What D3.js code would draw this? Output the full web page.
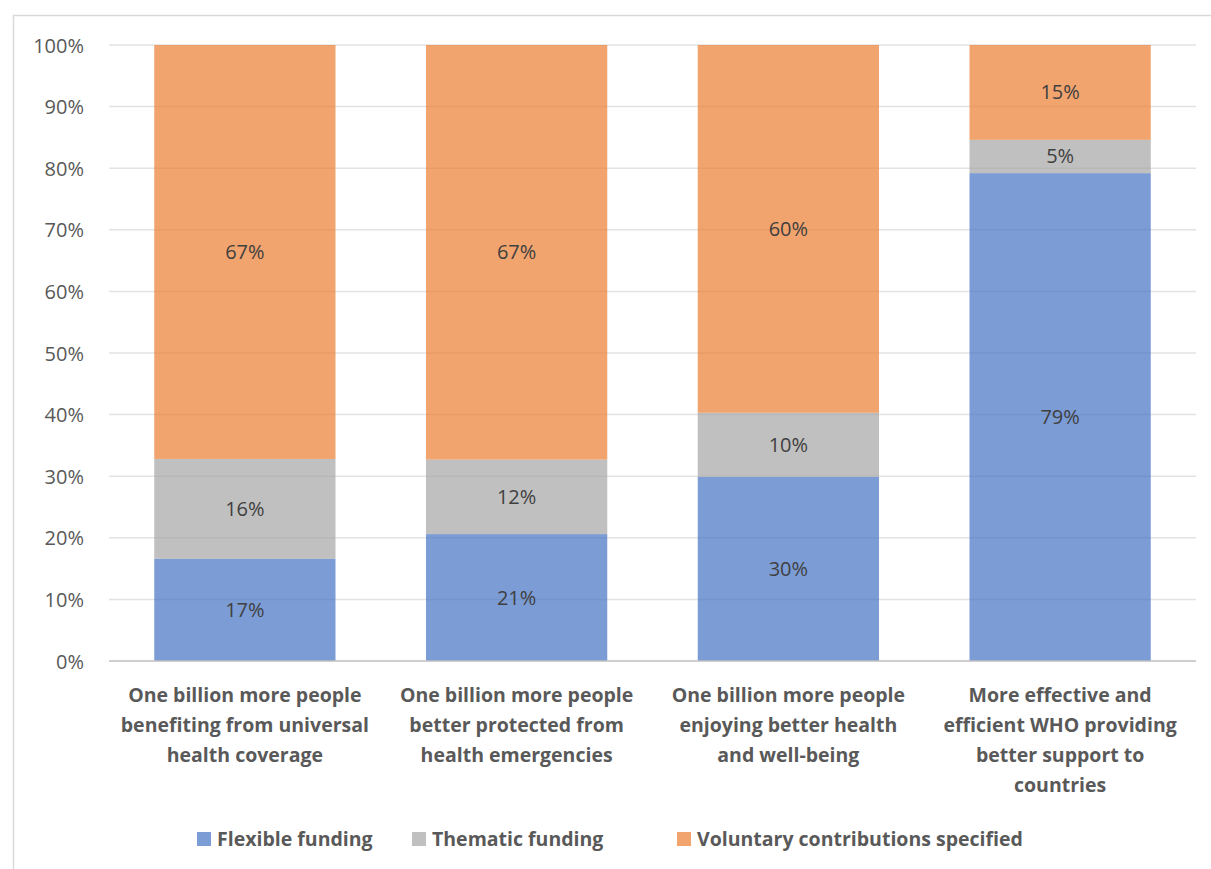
<!DOCTYPE html>
<html>
<head>
<meta charset="utf-8">
<script src="https://cdn.jsdelivr.net/npm/d3@7/dist/d3.min.js"></script>
<style>
  html, body { margin: 0; padding: 0; background: #fff; }
  svg { display: block; }
</style>
</head>
<body>
<script>
// Funding mix per output category (percent shares)
const categories = [
  ["One billion more people", "benefiting from universal", "health coverage"],
  ["One billion more people", "better protected from", "health emergencies"],
  ["One billion more people", "enjoying better health", "and well-being"],
  ["More effective and", "efficient WHO providing", "better support to", "countries"]
];
const seriesNames = ["Flexible funding", "Thematic funding", "Voluntary contributions specified"];
const flexible  = [16.6, 20.6, 29.9, 79.2];
const thematic  = [16.2, 12.1, 10.4, 5.4];
const voluntary = [67.2, 67.3, 59.7, 15.4];
const yTicks = [0, 10, 20, 30, 40, 50, 60, 70, 80, 90, 100];

const W = 1211, H = 869;
const colors = ["#4472C4", "#A5A5A5", "#ED7D31"];
const font = "'Open Sans', 'Noto Sans', sans-serif";

const rows = categories.map((c, i) => ({
  key: i, f: flexible[i], t: thematic[i], v: voluntary[i]
}));
const stack = d3.stack().keys(["f", "t", "v"]).offset(d3.stackOffsetExpand);
const layers = stack(rows);

const svg = d3.select("body").append("svg").attr("width", W).attr("height", H);

// chart frame
svg.append("rect")
  .attr("x", 13.5).attr("y", 15.5)
  .attr("width", W + 10).attr("height", H + 10)
  .attr("fill", "#fff").attr("stroke", "#d9d9d9").attr("stroke-width", 1.5);

const plot = { left: 109, right: 1196, top: 45, bottom: 661 };

const x = d3.scaleBand()
  .domain(rows.map(d => d.key))
  .range([plot.left, plot.right])
  .paddingInner(0.333).paddingOuter(0.1665);

const y = d3.scaleLinear().domain([0, 1]).range([plot.bottom, plot.top]);

// gridlines
svg.append("g")
  .selectAll("line")
  .data(yTicks.filter(t => t > 0))
  .join("line")
  .attr("x1", plot.left).attr("x2", plot.right)
  .attr("y1", d => y(d / 100)).attr("y2", d => y(d / 100))
  .attr("stroke", "#e3e3e3").attr("stroke-width", 1.5);

// y axis labels
const yAxis = d3.axisLeft(y)
  .tickValues(yTicks.map(t => t / 100))
  .tickFormat(d3.format(".0%"))
  .tickSize(0).tickPadding(0);
const yg = svg.append("g").attr("transform", `translate(84,0)`).call(yAxis);
yg.select(".domain").remove();
yg.selectAll("text")
  .attr("font-family", font).attr("font-size", 20).attr("fill", "#595959")
  .attr("dy", "0.35em");

// stacked bars
const gLayers = svg.append("g")
  .selectAll("g")
  .data(layers)
  .join("g")
  .attr("fill", (d, i) => colors[i])
  .attr("fill-opacity", 0.7);

gLayers.selectAll("rect")
  .data(d => d)
  .join("rect")
  .attr("x", d => x(d.data.key))
  .attr("width", x.bandwidth())
  .attr("y", d => y(d[1]))
  .attr("height", d => y(d[0]) - y(d[1]));

// baseline
svg.append("line")
  .attr("x1", plot.left).attr("x2", plot.right)
  .attr("y1", plot.bottom).attr("y2", plot.bottom)
  .attr("stroke", "#bfbfbf").attr("stroke-width", 1.5);

// data labels
const keyVals = { f: flexible, t: thematic, v: voluntary };
const lbl = svg.append("g");
layers.forEach(layer => {
  layer.forEach((d, i) => {
    lbl.append("text")
      .attr("x", x(d.data.key) + x.bandwidth() / 2)
      .attr("y", (y(d[0]) + y(d[1])) / 2)
      .attr("dy", "0.35em")
      .attr("text-anchor", "middle")
      .attr("font-family", font).attr("font-size", 20)
      .attr("fill", "#404040")
      .text(Math.round(keyVals[layer.key][i]) + "%");
  });
});

// category labels
const cat = svg.append("g");
rows.forEach((d, i) => {
  const t = cat.append("text")
    .attr("x", x(d.key) + x.bandwidth() / 2)
    .attr("y", 695)
    .attr("text-anchor", "middle")
    .attr("font-family", font).attr("font-size", 19.5)
    .attr("font-weight", "bold").attr("fill", "#595959");
  categories[i].forEach((line, j) => {
    t.append("tspan")
      .attr("x", x(d.key) + x.bandwidth() / 2)
      .attr("y", 695 + j * 30)
      .attr("dy", "0.35em")
      .text(line);
  });
});

// legend
const legendX = [197, 412, 677];
const leg = svg.append("g");
seriesNames.forEach((name, i) => {
  leg.append("rect")
    .attr("x", legendX[i]).attr("y", 832)
    .attr("width", 14).attr("height", 14)
    .attr("fill", colors[i]).attr("fill-opacity", 0.7);
  leg.append("text")
    .attr("x", legendX[i] + 20).attr("y", 839)
    .attr("dy", "0.35em")
    .attr("font-family", font).attr("font-size", 19.5)
    .attr("font-weight", "bold").attr("fill", "#595959")
    .text(name);
});
</script>
</body>
</html>
